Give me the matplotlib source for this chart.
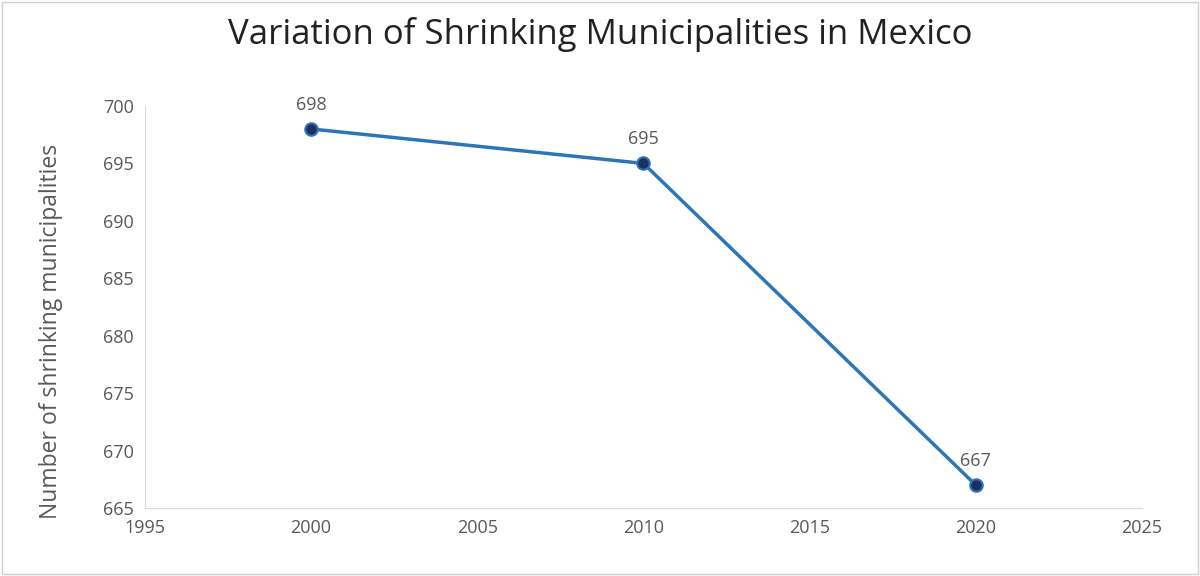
import matplotlib
matplotlib.use("Agg")
import matplotlib.pyplot as plt
from matplotlib.patches import Rectangle

years = [2000, 2010, 2020]
counts = [698, 695, 667]
x_ticks = [1995, 2000, 2005, 2010, 2015, 2020, 2025]
y_ticks = [665, 670, 675, 680, 685, 690, 695, 700]

plt.rcParams['font.family'] = ['Open Sans', 'DejaVu Sans']
gray = "#595959"

fig = plt.figure(figsize=(12, 5.76), dpi=100)
ax = fig.add_axes([0.1208, 0.118, 0.8308, 0.698])

ax.plot(years, counts, color="#2e75b6", lw=2.5, marker="o", ms=9,
        markerfacecolor="#1f2f5f", markeredgecolor="#2e75b6", markeredgewidth=1.5)
for x, y in zip(years, counts):
    ax.annotate(str(y), (x, y), textcoords="offset points", xytext=(0, 11),
                ha="center", va="bottom", fontsize=13, color=gray)

ax.set_xlim(1995, 2025)
ax.set_ylim(665, 700)
ax.set_xticks(x_ticks)
ax.set_yticks(y_ticks)
ax.tick_params(length=0, labelsize=13, labelcolor=gray, pad=8)
for s in ["top", "right"]:
    ax.spines[s].set_visible(False)
for s in ["left", "bottom"]:
    ax.spines[s].set_color("#d9d9d9")
ax.set_ylabel("Number of shrinking municipalities", fontsize=16.5, color=gray, labelpad=8)
ax.yaxis.set_label_coords(-0.082, 0.44)

fig.suptitle("Variation of Shrinking Municipalities in Mexico", fontsize=25,
             color="#222222", y=0.97)
fig.patches.append(Rectangle((0.002, 0.003), 0.996, 0.994, transform=fig.transFigure,
                             fill=False, edgecolor="#d0d0d0", lw=1))

fig.savefig("out.png", dpi=100)
